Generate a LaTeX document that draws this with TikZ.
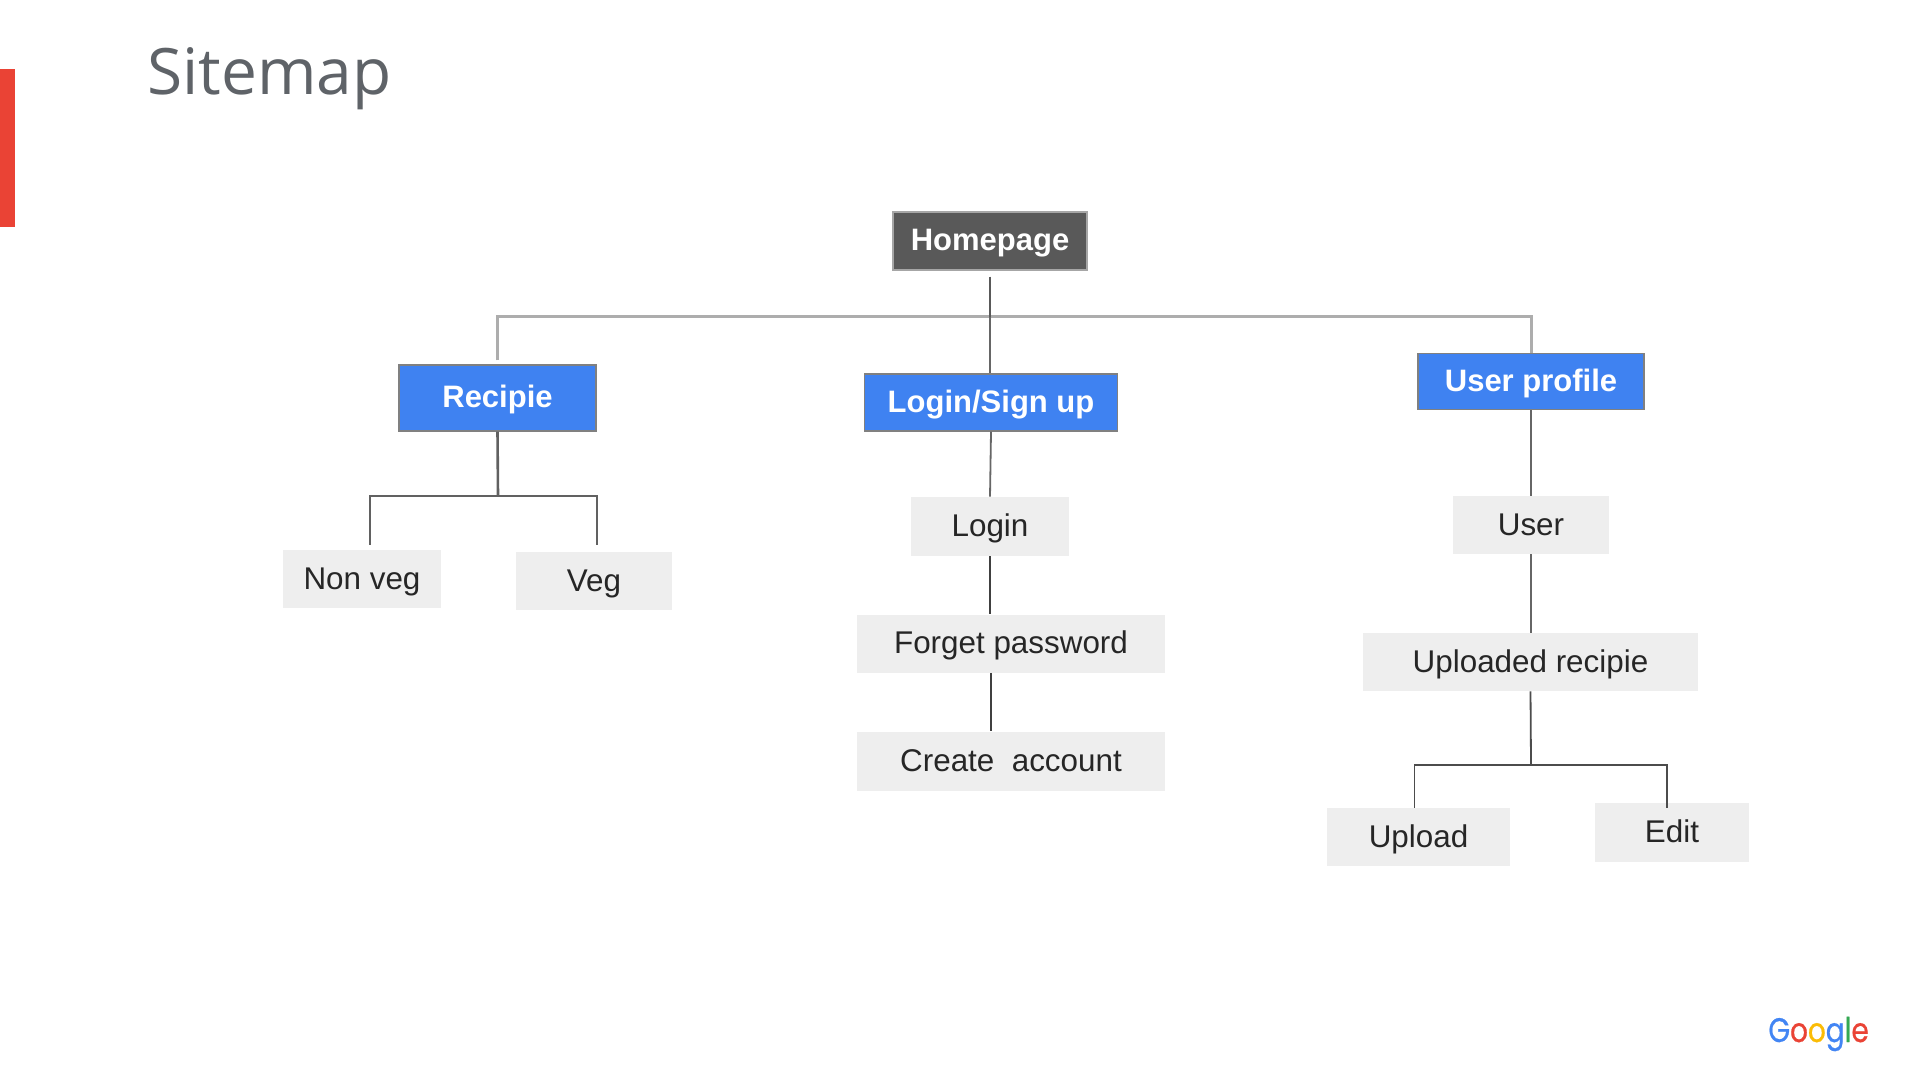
\documentclass[tikz,border=0pt]{standalone}
\usepackage{fontspec}
\setmainfont{Liberation Sans}
\newfontfamily\titlefont{Open Sans}
\newfontfamily\logofont[FakeBold=0.7]{Poppins}
\definecolor{gblue}{HTML}{4285F4}
\definecolor{gred}{HTML}{EA4335}
\definecolor{gyellow}{HTML}{FBBC05}
\definecolor{ggreen}{HTML}{34A853}
\definecolor{boxblue}{HTML}{3F82F1}
\definecolor{boxdark}{HTML}{595959}
\definecolor{boxlight}{HTML}{EEEEEE}
\definecolor{titlegray}{HTML}{5F6368}
\definecolor{textdark}{HTML}{262626}
\tikzset{
  basebox/.style={rectangle, inner sep=0pt, text height=11.5pt, text depth=1.5pt, align=center, font=\fontsize{15.7}{18}\selectfont},
  darkbox/.style={basebox, fill=boxdark, draw=gray!70, line width=0.7pt, text=white, font=\fontsize{15.5}{18}\selectfont\bfseries},
  bluebox/.style={basebox, fill=boxblue, draw=gray, line width=0.7pt, text=white, font=\fontsize{15.5}{18}\selectfont\bfseries},
  leafbox/.style={basebox, fill=boxlight, text=textdark},
  conn/.style={draw=black!70, line width=0.9pt},
  thinconn/.style={draw=black!75, line width=0.7pt},
  stubconn/.style={draw=black!65, line width=1.3pt},
  barconn/.style={draw=black!32, line width=1.5pt},
  midconn/.style={draw=black!60, line width=0.9pt},
  drawnconn/.style={draw=black!62, line width=1.3pt}
}
\begin{document}
\begin{tikzpicture}[x=0.5pt,y=-0.5pt]
\useasboundingbox (0,0) rectangle (1920,1080);
\fill[white] (0,0) rectangle (1920,1080);
\fill[gred] (0,69) rectangle (15,227);
\node[anchor=base west, inner sep=0pt, text=titlegray, font=\titlefont\fontsize{32}{36}\selectfont] (title) at (147,95) {Sitemap};

\node[darkbox, minimum width=97pt, minimum height=29pt] (home) at (990,241) {Homepage};
\node[bluebox, minimum width=98.5pt, minimum height=33pt] (rec) at (497.5,398) {Recipie};
\node[bluebox, minimum width=126.5pt, minimum height=28.5pt] (log) at (991,402.5) {Login/Sign up};
\node[bluebox, minimum width=113pt, minimum height=28pt] (up) at (1531,381.5) {User profile};

\node[leafbox, minimum width=79pt, minimum height=29pt] (nonveg) at (362,579) {Non veg};
\node[leafbox, minimum width=78pt, minimum height=29pt] (veg) at (594,581) {Veg};
\node[leafbox, minimum width=79pt, minimum height=29.5pt] (login) at (990,526.5) {Login};
\node[leafbox, minimum width=154pt, minimum height=29pt] (forget) at (1011,643.5) {Forget password};
\node[leafbox, minimum width=154pt, minimum height=29.5pt] (create) at (1011,761) {Create\ \ account};
\node[leafbox, minimum width=78pt, minimum height=29pt] (user) at (1531,525) {User};
\node[leafbox, minimum width=167.5pt, minimum height=29pt] (recipes) at (1530.5,662) {Uploaded recipie};
\node[leafbox, minimum width=91.5pt, minimum height=29pt] (upload) at (1418.5,837) {Upload};
\node[leafbox, minimum width=77pt, minimum height=29.5pt] (edit) at (1672,832.5) {Edit};

\coordinate (homej) at (990,317);
\coordinate (recj) at (498,496);
\coordinate (upj) at (1531,765);

\draw[barconn] ([yshift=2pt]rec.north) |- (homej) -| (up.north);
\draw[stubconn] ([yshift=-3pt]home.south) -- (homej);
\draw[midconn] (homej) -- (homej |- log.north);
\draw[drawnconn] (rec.south) -- (recj);
\draw[drawnconn] ([xshift=4pt,yshift=2.5pt]nonveg.north) |- (recj) -| ([xshift=1.5pt,yshift=3.5pt]veg.north);
\draw[midconn] (log.south) -- (login.north);
\draw[thinconn] (login.south) -- (login.south |- forget.north);
\draw[thinconn] ([xshift=-10pt]forget.south) -- ([xshift=-10pt]create.north);
\draw[midconn] (up.south) -- (user.north);
\draw[midconn] (user.south) -- (user.south |- recipes.north);
\draw[conn] (recipes.south) -- (upj);
\draw[conn] ([xshift=-2pt]upload.north) |- (upj) -| ([xshift=-2.5pt,yshift=-2.5pt]edit.north);

\node[anchor=base west, inner sep=0pt, font=\logofont\fontsize{17}{20}\selectfont] (logo) at (1768,1042) {\scalebox{0.82}[1]{\textcolor{gblue}{G}\textcolor{gred}{o}\textcolor{gyellow}{o}\textcolor{gblue}{g}\textcolor{ggreen}{l}\textcolor{gred}{e}}};
\end{tikzpicture}
\end{document}
